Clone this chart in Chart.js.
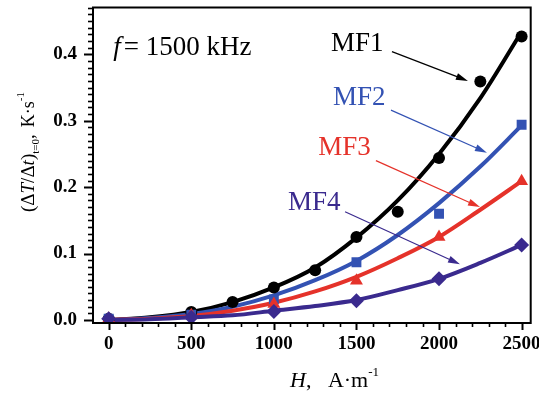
<!DOCTYPE html>
<html><head><meta charset="utf-8">
<script src="https://cdn.jsdelivr.net/npm/chart.js@4"></script>
<style>html,body{margin:0;padding:0;background:#fff}#wrap{width:539px;height:397px}</style>
</head><body><div id="wrap"><canvas id="c" width="539" height="397"></canvas></div>
<script>
// ---- data ----
const fitH   = [0, 250, 500, 750, 1000, 1250, 1500, 1750, 2000, 2250, 2500];
const fitMF1 = [0, 0.004, 0.012, 0.027, 0.049, 0.079, 0.124, 0.180, 0.250, 0.334, 0.434];
const fitMF2 = [0, 0.003, 0.009, 0.020, 0.037, 0.060, 0.089, 0.128, 0.176, 0.231, 0.293];
const fitMF3 = [0, 0.002, 0.006, 0.014, 0.026, 0.043, 0.065, 0.093, 0.125, 0.166, 0.209];
const fitMF4 = [0, 0.001, 0.004, 0.007, 0.014, 0.021, 0.030, 0.045, 0.062, 0.086, 0.113];

const hMF1 = [0, 500, 750, 1000, 1250, 1500, 1750, 2000, 2250, 2500];
const vMF1 = [0.002, 0.012, 0.027, 0.049, 0.075, 0.125, 0.163, 0.244, 0.359, 0.427];
const hMF = [0, 500, 1000, 1500, 2000, 2500];
const vMF2 = [0.002, 0.008, 0.031, 0.087, 0.160, 0.294];
const vMF3 = [0.002, 0.007, 0.024, 0.059, 0.125, 0.209];
const vMF4 = [0.002, 0.004, 0.013, 0.029, 0.062, 0.113];

const xTickValues = [0, 500, 1000, 1500, 2000, 2500];
const yTickValues = [0.0, 0.1, 0.2, 0.3, 0.4];

const seriesNames = ['MF1', 'MF2', 'MF3', 'MF4'];
// label anchor (H, value) and arrow (from -> to) in data units
const labelPos = [[1346, 0.405], [1358, 0.324], [1268, 0.249], [1086, 0.166]];
const arrowFrom = [[1715, 0.404], [1709, 0.316], [1618, 0.240], [1431, 0.163]];
const arrowTo   = [[2175, 0.360], [2290, 0.252], [2248, 0.170], [2127, 0.084]];
const freqLabelPos = [27, 0.399];

const COLORS = ['#000000', '#3352b3', '#e5322a', '#3a2a8e'];
const SERIF = "'Liberation Serif','Times New Roman',serif";

const pts = (xs, ys) => xs.map((x, i) => ({x, y: ys[i]}));

const fitDs = (d, c) => ({type: 'line', data: pts(fitH, d), borderColor: c, borderWidth: 4,
  pointRadius: 0, fill: false, cubicInterpolationMode: 'monotone', order: 2});
const mkDs = (xs, ys, c, style, r) => ({type: 'scatter', data: pts(xs, ys), showLine: false,
  pointStyle: style, pointRadius: r, pointBackgroundColor: c, pointBorderColor: c, pointBorderWidth: 0, order: 1});

function drawRich(ctx, x, y, segs) {
  let cx = x;
  for (const s of segs) {
    ctx.font = s.font;
    ctx.fillText(s.t, cx, y + (s.dy || 0));
    cx += ctx.measureText(s.t).width + (s.gap || 0);
  }
}

const noPad = s => { s.paddingTop = 0; s.paddingBottom = 0; s.paddingLeft = 0; s.paddingRight = 0; };

const decor = {
  id: 'decor',
  afterDraw(chart) {
    const {ctx, chartArea: a, scales: {x, y}} = chart;
    ctx.save();
    ctx.strokeStyle = '#000'; ctx.fillStyle = '#000';
    // frame
    ctx.lineWidth = 2;
    ctx.strokeRect(a.left, a.top, a.right - a.left, a.bottom - a.top);
    // y ticks (minor every 0.01)
    for (let k = 0; k <= 47; k++) {
      const py = Math.round(y.getPixelForValue(k / 100)) + 0.5;
      if (py < a.top) continue;
      const len = k % 10 === 0 ? 9 : 5;
      ctx.lineWidth = k % 10 === 0 ? 2 : 1.6;
      ctx.beginPath(); ctx.moveTo(a.left, py); ctx.lineTo(a.left - len, py); ctx.stroke();
    }
    // x ticks (minor every 100)
    for (let k = 0; k <= 25; k++) {
      const px = Math.round(x.getPixelForValue(k * 100)) + 0.5;
      const len = k % 5 === 0 ? 7 : 4;
      ctx.lineWidth = k % 5 === 0 ? 2 : 1.6;
      ctx.beginPath(); ctx.moveTo(px, a.bottom); ctx.lineTo(px, a.bottom + len); ctx.stroke();
    }
    // arrows
    for (let i = 0; i < 4; i++) {
      const x1 = x.getPixelForValue(arrowFrom[i][0]), y1 = y.getPixelForValue(arrowFrom[i][1]);
      const x2 = x.getPixelForValue(arrowTo[i][0]), y2 = y.getPixelForValue(arrowTo[i][1]);
      const ang = Math.atan2(y2 - y1, x2 - x1);
      ctx.strokeStyle = COLORS[i]; ctx.fillStyle = COLORS[i];
      ctx.lineWidth = 1.2;
      ctx.beginPath(); ctx.moveTo(x1, y1);
      ctx.lineTo(x2 - 9 * Math.cos(ang), y2 - 9 * Math.sin(ang)); ctx.stroke();
      ctx.beginPath();
      ctx.moveTo(x2, y2);
      ctx.lineTo(x2 - 12 * Math.cos(ang) + 3.5 * Math.sin(ang), y2 - 12 * Math.sin(ang) - 3.5 * Math.cos(ang));
      ctx.lineTo(x2 - 12 * Math.cos(ang) - 3.5 * Math.sin(ang), y2 - 12 * Math.sin(ang) + 3.5 * Math.cos(ang));
      ctx.closePath(); ctx.fill();
    }
    // series labels
    ctx.textBaseline = 'alphabetic'; ctx.textAlign = 'left';
    for (let i = 0; i < 4; i++) {
      ctx.fillStyle = COLORS[i];
      ctx.font = '27px ' + SERIF;
      ctx.fillText(seriesNames[i], x.getPixelForValue(labelPos[i][0]), y.getPixelForValue(labelPos[i][1]));
    }
    ctx.fillStyle = '#000';
    drawRich(ctx, x.getPixelForValue(freqLabelPos[0]), y.getPixelForValue(freqLabelPos[1]), [
      {t: 'f', font: 'italic 27px ' + SERIF, gap: 3},
      {t: '= 1500 kHz', font: '27px ' + SERIF}
    ]);
    // x axis title
    drawRich(ctx, a.left + 197, a.bottom + 64, [
      {t: 'H', font: 'italic 22px ' + SERIF},
      {t: ',   A·m', font: '22px ' + SERIF},
      {t: '-1', font: '13px ' + SERIF, dy: -11}
    ]);
    // y axis title
    ctx.translate(34, 212);
    ctx.rotate(-Math.PI / 2);
    const f = '19px ' + SERIF, fi = 'italic 19px ' + SERIF;
    drawRich(ctx, 0, 0, [
      {t: '(Δ', font: f}, {t: 'T', font: fi}, {t: '/Δ', font: f}, {t: 't', font: fi}, {t: ')', font: f},
      {t: 't=0', font: '11px ' + SERIF, dy: 5}, {t: ',', font: f, gap: 7},
      {t: 'K·s', font: '18px ' + SERIF},
      {t: '-1', font: '11px ' + SERIF, dy: -10}
    ]);
    ctx.restore();
  }
};

new Chart(document.getElementById('c'), {
  data: {
    datasets: [
      mkDs(hMF, vMF4, COLORS[3], 'rectRot', 7.5),
      mkDs(hMF, vMF3, COLORS[2], 'triangle', 7.5),
      mkDs(hMF, vMF2, COLORS[1], 'rect', 7),
      mkDs(hMF1, vMF1, COLORS[0], 'circle', 6),
      fitDs(fitMF4, COLORS[3]), fitDs(fitMF3, COLORS[2]), fitDs(fitMF2, COLORS[1]), fitDs(fitMF1, COLORS[0])
    ]
  },
  options: {
    responsive: false, animation: false, devicePixelRatio: 1,
    layout: {padding: {left: 0, top: 7.5, right: 8.3, bottom: 0}},
    plugins: {legend: {display: false}, tooltip: {enabled: false}},
    scales: {
      x: {type: 'linear', position: 'bottom', min: -95, max: 2555,
        grid: {display: false, drawTicks: false}, border: {display: false},
        afterBuildTicks: s => { s.ticks = xTickValues.map(v => ({value: v})); },
        ticks: {font: {family: SERIF, size: 19, weight: 'bold'}, color: '#000', padding: 10,
          autoSkip: false, maxRotation: 0, callback: v => String(v)},
        afterFit: s => { s.height = 74; noPad(s); }},
      y: {type: 'linear', min: -0.0045, max: 0.4705,
        grid: {display: false, drawTicks: false}, border: {display: false},
        afterBuildTicks: s => { s.ticks = yTickValues.map(v => ({value: v})); },
        ticks: {font: {family: SERIF, size: 19, weight: 'bold'}, color: '#000', padding: 16,
          autoSkip: false, callback: v => v.toFixed(1)},
        afterFit: s => { s.width = 93; noPad(s); }}
    }
  },
  plugins: [decor]
});
</script>
</body></html>
